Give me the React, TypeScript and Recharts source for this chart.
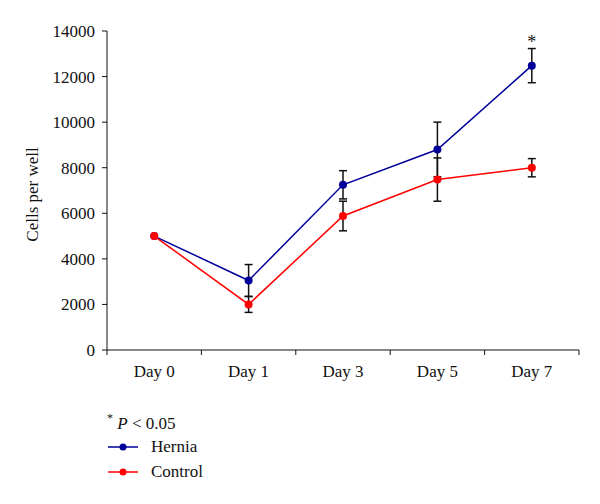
import { LineChart, Line, XAxis, YAxis, ErrorBar, LabelList } from 'recharts'

// ── Data ──────────────────────────────────────────────────────────────────────

const days         = ['Day 0', 'Day 1', 'Day 3', 'Day 5', 'Day 7']
const hernia       = [5000, 3050, 7250, 8800, 12480]
const herniaErr    = [0, 700, 620, 1200, 750]
const control      = [5000, 2000, 5880, 7480, 8000]
const controlErr   = [0, 350, 650, 950, 400]
const significance = ['', '', '', '', '*']
const yTicks       = [0, 2000, 4000, 6000, 8000, 10000, 12000, 14000]

const chartData = days.map((d, i) => ({
  x: i + 0.5,
  day: d,
  Hernia: hernia[i],
  herniaErr: herniaErr[i] || null,
  Control: control[i],
  controlErr: controlErr[i] || null,
  sig: significance[i],
}))

// ── Styles ────────────────────────────────────────────────────────────────────

const FONT  = '"Liberation Serif", "Times New Roman", serif'
const NAVY  = '#000099'
const RED   = '#ff0000'
const TICK  = { fontSize: 17, fill: '#111', fontFamily: FONT }
const W     = 600
const H     = 504

function LegendBox() {
  const item = (color: string, label: string) => (
    <div style={{ display: 'flex', alignItems: 'center', height: 25 }}>
      <svg width={44} height={10}>
        <line x1={1} y1={5} x2={31} y2={5} stroke={color} strokeWidth={1.5} />
        <circle cx={16} cy={5} r={3.5} fill={color} />
      </svg>
      <span>{label}</span>
    </div>
  )
  return (
    <div style={{ position: 'absolute', left: 107, top: 412, fontFamily: FONT, fontSize: 17, color: '#111', lineHeight: 1 }}>
      <div style={{ height: 22 }}>
        <sup style={{ fontSize: 12 }}>*</sup> <i>P</i> &lt; 0.05
      </div>
      {item(NAVY, 'Hernia')}
      {item(RED, 'Control')}
    </div>
  )
}

export default function App() {
  return (
    <div style={{ position: 'absolute', left: 0, top: 0, width: W, height: H, background: '#fff' }}>
      <LineChart width={W} height={H} data={chartData} margin={{ top: 31, right: 21, left: 0, bottom: 124 }}>
        <XAxis
          xAxisId="a" dataKey="x" type="number" domain={[0, 5]} ticks={[0, 1, 2, 3, 4, 5]}
          stroke="#111" tickSize={5} tickFormatter={() => ''} height={6}
        />
        <XAxis
          xAxisId="b" dataKey="x" type="number" domain={[0, 5]} ticks={chartData.map(d => d.x)}
          axisLine={false} tickLine={false} tick={TICK} tickFormatter={(v: number) => days[Math.floor(v)]}
          height={24} tickMargin={3}
        />
        <YAxis
          domain={[0, 14000]} ticks={yTicks} width={107} stroke="#111" tick={TICK} tickSize={5} tickMargin={7}
          label={{ value: 'Cells per well', angle: -90, position: 'insideLeft', dx: 27, dy: 4, style: { ...TICK, textAnchor: 'middle' } }}
        />
        <Line
          xAxisId="a" dataKey="Hernia" stroke={NAVY} strokeWidth={1.5} isAnimationActive={false}
          dot={{ r: 4, fill: NAVY, stroke: NAVY, strokeWidth: 0 }}
        >
          <ErrorBar dataKey="herniaErr" stroke="#111" strokeWidth={1.5} width={4} />
          <LabelList dataKey="sig" position="top" offset={18} style={{ ...TICK, fontSize: 18 }} />
        </Line>
        <Line
          xAxisId="a" dataKey="Control" stroke={RED} strokeWidth={1.5} isAnimationActive={false}
          dot={{ r: 4, fill: RED, stroke: RED, strokeWidth: 0 }}
        >
          <ErrorBar dataKey="controlErr" stroke="#111" strokeWidth={1.5} width={4} />
        </Line>
      </LineChart>
      <LegendBox />
    </div>
  )
}
